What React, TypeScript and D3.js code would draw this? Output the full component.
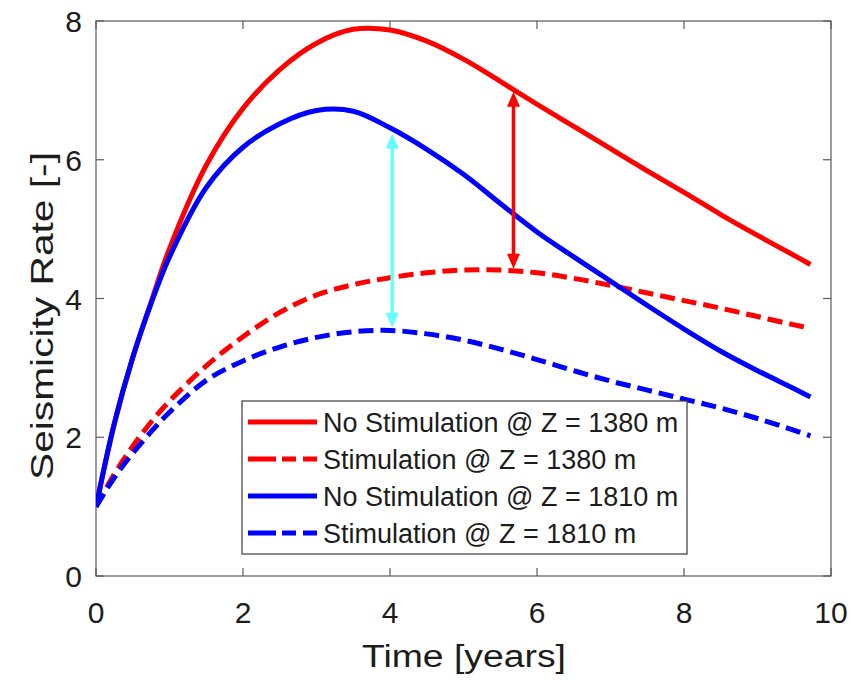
import React from "react";
import * as d3 from "d3";

const timeYears = [0, 0.25, 0.5, 0.75, 1, 1.5, 2, 2.5, 3, 3.5, 4, 4.5, 5, 5.5, 6, 6.5, 7, 7.5, 8, 8.5, 9, 9.5, 9.72];
const noStim1380 = [1.0, 2.2, 3.15, 3.95, 4.72, 5.92, 6.74, 7.3, 7.68, 7.88, 7.87, 7.71, 7.45, 7.13, 6.8, 6.48, 6.16, 5.84, 5.53, 5.21, 4.91, 4.62, 4.49];
const stim1380 = [1.0, 1.47, 1.87, 2.22, 2.52, 3.03, 3.45, 3.8, 4.05, 4.2, 4.3, 4.37, 4.41, 4.41, 4.37, 4.29, 4.19, 4.08, 3.97, 3.86, 3.74, 3.62, 3.57];
const noStim1810 = [1.0, 2.2, 3.15, 3.93, 4.6, 5.6, 6.18, 6.52, 6.71, 6.7, 6.46, 6.15, 5.79, 5.37, 4.96, 4.6, 4.25, 3.9, 3.56, 3.24, 2.96, 2.7, 2.58];
const stim1810 = [1.0, 1.42, 1.77, 2.08, 2.36, 2.82, 3.1, 3.3, 3.44, 3.52, 3.54, 3.49, 3.4, 3.27, 3.12, 2.96, 2.81, 2.68, 2.55, 2.42, 2.27, 2.1, 2.02];

const seriesNames = [
  "No Stimulation @ Z = 1380 m",
  "Stimulation @ Z = 1380 m",
  "No Stimulation @ Z = 1810 m",
  "Stimulation @ Z = 1810 m",
];
const seriesColors = ["#ff0000", "#ff0000", "#0000ff", "#0000ff"];
const seriesDashed = [false, true, false, true];
const seriesValues = [noStim1380, stim1380, noStim1810, stim1810];

const xTicks = [0, 2, 4, 6, 8, 10];
const yTicks = [0, 2, 4, 6, 8];

// difference arrows: time, low value, high value
const arrowTimes = [5.68, 4.03];
const arrowLow = [4.43, 3.58];
const arrowHigh = [6.98, 6.38];
const arrowColors = ["#ff0000", "#66ffff"];

const W = 865;
const H = 682;
const L = 96, R = 831, T = 21, B = 576;
const FONT = "'Liberation Sans', Arial, Helvetica, sans-serif";

export default function App() {
  const x = d3.scaleLinear().domain([0, 10]).range([L, R]);
  const y = d3.scaleLinear().domain([0, 8]).range([B, T]);

  const line = d3
    .line<number>()
    .x((_, i) => x(timeYears[i]))
    .y((d) => y(d))
    .curve(d3.curveCatmullRom.alpha(0.5));

  const axisColor = "#5a5a5a";
  const textColor = "#1c1c1c";
  const tickLen = 8;

  const legX = 242, legY = 401, legW = 445, legH = 153;
  const rowY = [422, 459, 496, 533];

  const arrowHead = (xp: number, yp: number, dir: number, color: string, key: string) => {
    const hl = 15, hw = 6.5;
    const pts = [
      [xp, yp],
      [xp - hw, yp - dir * hl],
      [xp + hw, yp - dir * hl],
    ];
    return <polygon key={key} points={pts.map((p) => p.join(",")).join(" ")} fill={color} />;
  };

  return (
    <svg
      width={W}
      height={H}
      style={{ position: "absolute", left: 0, top: 0, background: "#fff" }}
      fontFamily={FONT}
    >
      <rect x={0} y={0} width={W} height={H} fill="#fff" />
      <defs>
        <clipPath id="plotClip">
          <rect x={L} y={T} width={R - L} height={B - T} />
        </clipPath>
      </defs>

      <rect x={L} y={T} width={R - L} height={B - T} fill="none" stroke={axisColor} strokeWidth={1.2} />
      {xTicks.map((t) => (
        <g key={"xt" + t}>
          <line x1={x(t)} x2={x(t)} y1={B} y2={B - tickLen} stroke={axisColor} strokeWidth={1.2} />
          <line x1={x(t)} x2={x(t)} y1={T} y2={T + tickLen} stroke={axisColor} strokeWidth={1.2} />
          <text x={x(t)} y={623} fontSize={30} textAnchor="middle" fill={textColor}>
            {t}
          </text>
        </g>
      ))}
      {yTicks.map((t) => (
        <g key={"yt" + t}>
          <line x1={L} x2={L + tickLen} y1={y(t)} y2={y(t)} stroke={axisColor} strokeWidth={1.2} />
          <line x1={R} x2={R - tickLen} y1={y(t)} y2={y(t)} stroke={axisColor} strokeWidth={1.2} />
          <text x={82} y={y(t) + 11} fontSize={30} textAnchor="end" fill={textColor}>
            {t}
          </text>
        </g>
      ))}

      <text x={464} y={667} fontSize={31} textAnchor="middle" fill={textColor} textLength={204} lengthAdjust="spacingAndGlyphs">
        Time [years]
      </text>
      <text
        transform={`translate(53,316) rotate(-90)`}
        fontSize={31}
        textAnchor="middle"
        fill={textColor}
        textLength={328}
        lengthAdjust="spacingAndGlyphs"
      >
        Seismicity Rate [-]
      </text>

      <g clipPath="url(#plotClip)">
        {seriesValues.map((vals, i) => (
          <path
            key={"s" + i}
            d={line(vals) || ""}
            fill="none"
            stroke={seriesColors[i]}
            strokeWidth={5}
            strokeDasharray={seriesDashed[i] ? "15,7" : undefined}
            strokeLinejoin="round"
          />
        ))}
      </g>

      {arrowTimes.map((t, i) => {
        const xp = x(t);
        const yTop = y(arrowHigh[i]);
        const yBot = y(arrowLow[i]);
        return (
          <g key={"a" + i}>
            <line x1={xp} x2={xp} y1={yTop + 12} y2={yBot - 12} stroke={arrowColors[i]} strokeWidth={3.5} />
            {arrowHead(xp, yTop, -1, arrowColors[i], "ha" + i)}
            {arrowHead(xp, yBot, 1, arrowColors[i], "hb" + i)}
          </g>
        );
      })}

      <rect x={legX} y={legY} width={legW} height={legH} fill="#fff" stroke="#3a3a3a" strokeWidth={1.2} />
      {seriesNames.map((name, i) => (
        <g key={"l" + i}>
          <line
            x1={248}
            x2={317}
            y1={rowY[i]}
            y2={rowY[i]}
            stroke={seriesColors[i]}
            strokeWidth={5}
            strokeDasharray={seriesDashed[i] ? "28,6,14,7,14" : undefined}
          />
          <text x={323} y={rowY[i] + 9.7} fontSize={27} fill={textColor}>
            {name}
          </text>
        </g>
      ))}
    </svg>
  );
}
